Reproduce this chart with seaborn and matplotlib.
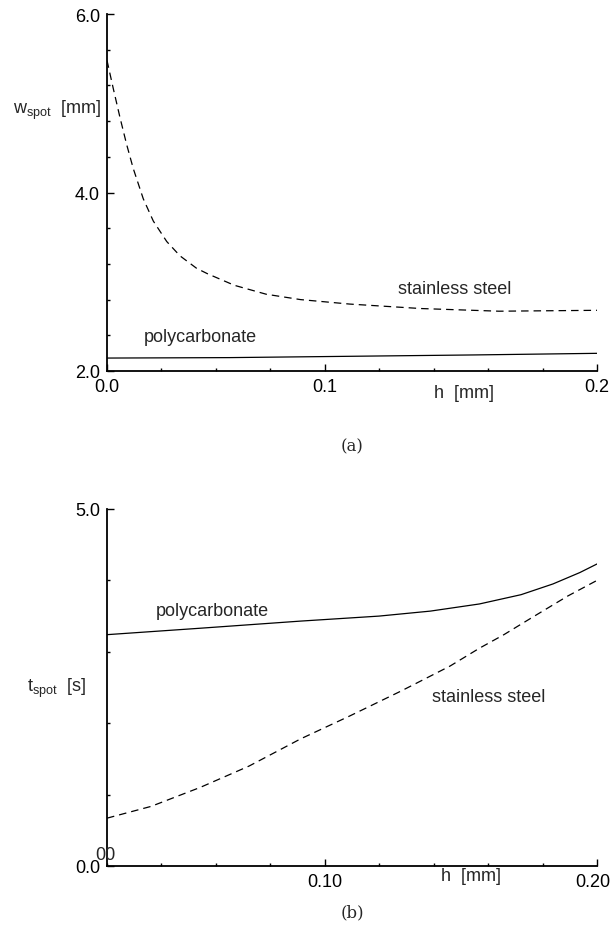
import numpy as np
import pandas as pd
import matplotlib
matplotlib.use("Agg")
import matplotlib.pyplot as plt
import matplotlib.transforms as mtrans
import seaborn as sns

# ---- data ----
# panel (a): spot width w_spot [mm] vs h [mm]
h_a_steel = [0.0, 0.0026, 0.0053, 0.008, 0.0107, 0.0148, 0.0189, 0.0244, 0.0298,
             0.0366, 0.041, 0.052, 0.065, 0.079, 0.099, 0.128, 0.160, 0.200]
w_steel = [5.48, 5.16, 4.84, 4.54, 4.27, 3.93, 3.68, 3.45, 3.29,
           3.15, 3.09, 2.96, 2.86, 2.80, 2.75, 2.70, 2.67, 2.68]
h_a_poly = [0.0, 0.05, 0.10, 0.15, 0.20]
w_poly = [2.145, 2.150, 2.165, 2.180, 2.198]

# panel (b): spot time t_spot [s] vs h [mm]
h_b_poly = [0.0, 0.038, 0.079, 0.111, 0.132, 0.152, 0.169, 0.182, 0.193, 0.200]
t_poly = [3.24, 3.33, 3.43, 3.50, 3.57, 3.67, 3.80, 3.95, 4.11, 4.23]
h_b_steel = [0.0, 0.018, 0.038, 0.058, 0.079, 0.099, 0.120, 0.140, 0.152,
             0.162, 0.173, 0.188, 0.200]
t_steel = [0.67, 0.835, 1.10, 1.40, 1.78, 2.10, 2.45, 2.80, 3.05,
           3.24, 3.47, 3.78, 4.00]

# tick labels
a_xtick_labels = ["0.0", "0.1", "0.2"]
b_xtick_labels = ["0.10", "0.20"]
a_ytick_labels = ["2.0", "4.0", "6.0"]
b_ytick_labels = ["0.0", "5.0"]

sns.set_style("ticks")
plt.rcParams['font.family'] = ['Liberation Sans', 'DejaVu Sans']
plt.rcParams['mathtext.fontset'] = 'custom'
plt.rcParams['mathtext.rm'] = 'Liberation Sans'

df_a = pd.concat([
    pd.DataFrame({"h": h_a_steel, "v": w_steel, "mat": "stainless steel"}),
    pd.DataFrame({"h": h_a_poly, "v": w_poly, "mat": "polycarbonate"}),
])
df_b = pd.concat([
    pd.DataFrame({"h": h_b_steel, "v": t_steel, "mat": "stainless steel"}),
    pd.DataFrame({"h": h_b_poly, "v": t_poly, "mat": "polycarbonate"}),
])

fig = plt.figure(figsize=(6.12, 9.28), dpi=100)
axA = fig.add_axes([107/612, 1-372/928, 490/612, 357/928])
axB = fig.add_axes([107/612, 1-867/928, 490/612, 357/928])

styles = {"stainless steel": (0, (6, 4)), "polycarbonate": "-"}
for ax, df in ((axA, df_a), (axB, df_b)):
    for mat, sub in df.groupby("mat"):
        sns.lineplot(data=sub, x="h", y="v", ax=ax, color="black",
                     linewidth=0.9, linestyle=styles[mat], legend=False,
                     estimator=None, sort=True)

FS = 13
xmid = 0.2 * 4 / 9  # position of the middle labelled tick in the reference
for ax in (axA, axB):
    ax.set_xlim(0, 0.2)
    for s in ("top", "right"):
        ax.spines[s].set_visible(False)
    for s in ("left", "bottom"):
        ax.spines[s].set_linewidth(1.3)
        ax.spines[s].set_color("black")
    ax.tick_params(which="both", direction="in", colors="black", labelsize=FS,
                   width=1.0)
    ax.tick_params(which="major", length=5, pad=5)
    ax.tick_params(which="minor", length=2.5)
    ax.set_xticks(np.linspace(0, 0.2, 10), minor=True)
    ax.set_xlabel("")
    ax.set_ylabel("")

def ax_text(ax, px, py, s, top, **kw):
    """place text at reference pixel position (px, py) relative to axes box"""
    ax.text((px - 107) / 490, (top - py) / 357, s, transform=ax.transAxes,
            ha="center", va="center", fontsize=FS, **kw)

# panel (a)
axA.set_ylim(2.0, 6.0)
axA.set_yticks([2.0, 4.0, 6.0])
axA.set_yticklabels(a_ytick_labels)
axA.set_yticks(np.arange(2.0, 6.01, 0.4), minor=True)
axA.set_xticks([0, xmid, 0.2])
axA.set_xticklabels(a_xtick_labels)
ax_text(axA, 57, 110, r"w$_{\rm spot}$  [mm]", 372)
ax_text(axA, 464, 393, "h  [mm]", 372)
ax_text(axA, 455, 289, "stainless steel", 372)
ax_text(axA, 200, 337, "polycarbonate", 372)

# panel (b)
axB.set_ylim(0.0, 5.0)
axB.set_yticks([0.0, 5.0])
axB.set_yticklabels(b_ytick_labels)
axB.set_yticks(np.arange(0.0, 5.01, 1.0), minor=True)
axB.set_xticks([xmid, 0.2])
axB.set_xticklabels(b_xtick_labels)
ax_text(axB, 57, 688, r"t$_{\rm spot}$  [s]", 867)
ax_text(axB, 471, 877, "h  [mm]", 867)
ax_text(axB, 212, 612, "polycarbonate", 867)
ax_text(axB, 489, 697, "stainless steel", 867)
ax_text(axB, 105, 855, "00", 867)

# keep the right-most bottom label inside the picture
lbl = axB.get_xticklabels()[-1]
lbl.set_transform(lbl.get_transform() +
                  mtrans.ScaledTranslation(-4/100, 0, fig.dpi_scale_trans))

# panel captions
fig.text(352/612, 1-447/928, "(a)", ha="center", va="center", fontsize=12,
         family="DejaVu Serif")
fig.text(352/612, 1-913/928, "(b)", ha="center", va="center", fontsize=12,
         family="DejaVu Serif")

fig.savefig("out.png", dpi=100)
